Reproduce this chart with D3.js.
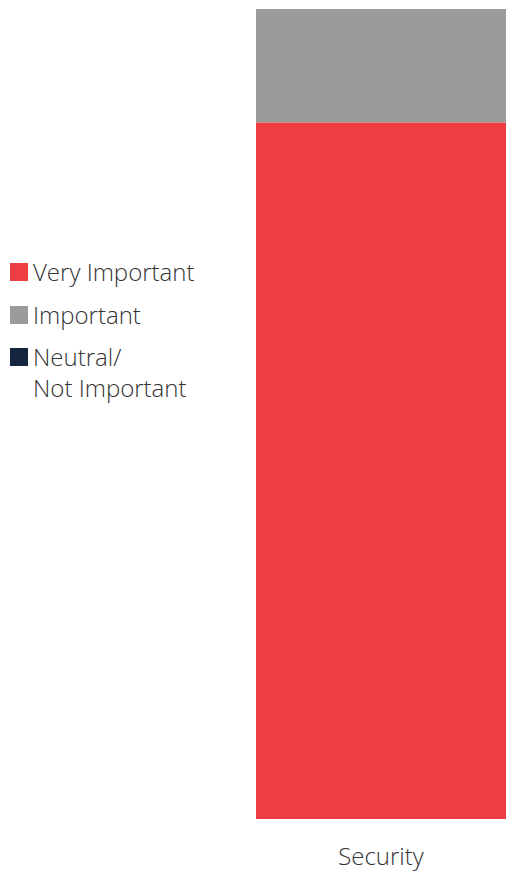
<!DOCTYPE html>
<html>
<head>
<meta charset="utf-8">
<script src="https://cdn.jsdelivr.net/npm/d3@7"></script>
<style>
  html, body { margin: 0; padding: 0; background: #fff; }
  svg { display: block; }
  text { font-family: "Open Sans", "Noto Sans", sans-serif; font-weight: 300; fill: #333; }
</style>
</head>
<body>
<div id="chart"></div>
<script>
// Survey answers for a single category, in percent
const categories = ["Security"];
const seriesNames = ["Very Important", "Important", "Neutral/Not Important"];
const legendLabels = [["Very Important"], ["Important"], ["Neutral/", "Not Important"]];
const veryImportant = [86];
const important = [14];
const neutral = [0];
const colors = ["#ee3e42", "#9b9b99", "#14253f"];

const W = 506, H = 872;
const svg = d3.select("#chart").append("svg").attr("width", W).attr("height", H);

const rows = categories.map((c, i) => ({
  category: c,
  "Very Important": veryImportant[i],
  "Important": important[i],
  "Neutral/Not Important": neutral[i]
}));

const stack = d3.stack().keys(seriesNames);
const layers = stack(rows);

const x = d3.scaleBand().domain(categories).range([256, 506]).paddingInner(0).paddingOuter(0);
const y = d3.scaleLinear().domain([0, 100]).range([819, 9]);
const color = d3.scaleOrdinal().domain(seriesNames).range(colors);

svg.append("g").selectAll("g")
  .data(layers)
  .join("g")
  .attr("fill", d => color(d.key))
  .selectAll("rect")
  .data(d => d)
  .join("rect")
  .attr("x", d => x(d.data.category))
  .attr("width", x.bandwidth())
  .attr("y", d => y(d[1]))
  .attr("height", d => y(d[0]) - y(d[1]));

// Category axis without domain line or ticks
const xAxis = svg.append("g")
  .attr("transform", "translate(0,819)")
  .call(d3.axisBottom(x).tickSize(0).tickPadding(0));
xAxis.select(".domain").remove();
xAxis.selectAll("text")
  .attr("y", 46)
  .attr("dy", 0)
  .style("font-family", '"Open Sans", "Noto Sans", sans-serif')
  .style("font-weight", 300)
  .style("font-size", "24px")
  .attr("fill", "#333");

// Legend
const legendTop = [263, 306, 348];
const legend = svg.append("g").selectAll("g")
  .data(seriesNames)
  .join("g")
  .attr("transform", (d, i) => `translate(10,${legendTop[i]})`);

legend.append("rect")
  .attr("width", 18).attr("height", 18)
  .attr("fill", d => color(d));

legend.append("text")
  .attr("x", 23)
  .attr("y", 18)
  .style("font-size", "24px")
  .selectAll("tspan")
  .data((d, i) => legendLabels[i])
  .join("tspan")
  .attr("x", 23)
  .attr("dy", (d, j) => j === 0 ? 0 : 31)
  .text(d => d);
</script>
</body>
</html>
